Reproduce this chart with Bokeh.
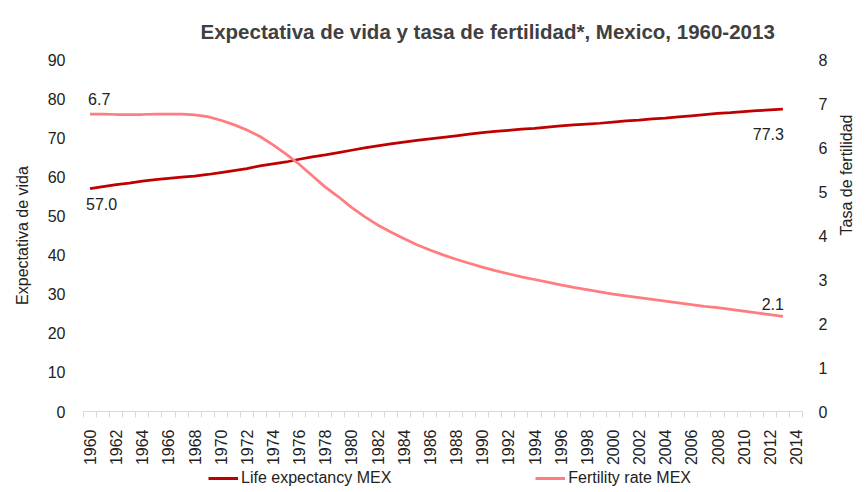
import math
from bokeh.plotting import figure
from bokeh.layouts import column
from bokeh.models import Range1d, LinearAxis, FixedTicker, Legend, LegendItem
from bokeh.core.properties import value
from bokeh.embed import file_html
from bokeh.resources import INLINE

# ---------------- data ----------------
years = list(range(1960, 2014))
life_expectancy = [
    57.0, 57.5, 58.0, 58.4, 58.9, 59.3, 59.6, 59.9, 60.2, 60.6,
    61.1, 61.6, 62.1, 62.8, 63.3, 63.8, 64.5, 65.1, 65.6, 66.2,
    66.8, 67.4, 67.9, 68.4, 68.9, 69.3, 69.7, 70.1, 70.5, 70.9,
    71.3, 71.6, 71.9, 72.2, 72.4, 72.7, 73.0, 73.3, 73.5, 73.7,
    74.0, 74.3, 74.5, 74.8, 75.0, 75.3, 75.6, 75.9, 76.2, 76.4,
    76.7, 76.9, 77.1, 77.3,
]
fertility_rate = [
    6.76, 6.76, 6.75, 6.75, 6.75, 6.76, 6.76, 6.76, 6.74, 6.70,
    6.62, 6.52, 6.40, 6.25, 6.06, 5.85, 5.62, 5.36, 5.10, 4.88,
    4.64, 4.43, 4.24, 4.08, 3.93, 3.79, 3.67, 3.56, 3.46, 3.37,
    3.28, 3.20, 3.13, 3.06, 3.00, 2.94, 2.88, 2.82, 2.77, 2.72,
    2.67, 2.63, 2.59, 2.55, 2.51, 2.47, 2.43, 2.39, 2.36, 2.32,
    2.28, 2.24, 2.20, 2.16,
]
x_label_years = list(range(1960, 2015, 2))
life_ticks = list(range(0, 91, 10))
fert_ticks = list(range(0, 9))
life_labels = ["57.0", "77.3"]
fert_labels = ["6.7", "2.1"]
series_names = ["Life expectancy MEX", "Fertility rate MEX"]

TITLE = "Expectativa de vida y tasa de fertilidad*, Mexico, 1960-2013"
LIFE_COLOR = "#C00000"
FERT_COLOR = "#FF7C80"
TEXT_COLOR = "#222222"
FONT = "Liberation Sans"

p = figure(
    width=866, height=468,
    output_backend="svg", toolbar_location=None,
    x_range=Range1d(years[0] - 0.5, x_label_years[-1] + 0.5),
    y_range=Range1d(life_ticks[0], life_ticks[-1]),
    min_border_left=83, min_border_right=59,
    min_border_top=59, min_border_bottom=57,
)
p.extra_y_ranges = {"fert": Range1d(fert_ticks[0], fert_ticks[-1])}
p.outline_line_color = None
p.xgrid.visible = False
p.ygrid.visible = False
p.background_fill_color = "white"
p.border_fill_color = "white"

# title
p.title.text = TITLE
p.title.text_font = FONT
p.title.text_font_style = "bold"
p.title.text_font_size = "20.5px"
p.title.text_color = "#404040"
p.title.align = "left"
p.title.offset = 117
p.title.standoff = 34

# x axis
xax = p.xaxis[0]
xax.axis_label = None
xax.ticker = FixedTicker(
    ticks=x_label_years,
    minor_ticks=[y - 0.5 for y in range(years[0], x_label_years[-1] + 2)],
)
xax.major_label_orientation = math.pi / 2
xax.major_tick_out = 0
xax.major_tick_in = 0
xax.minor_tick_out = 6
xax.minor_tick_in = 0
xax.minor_tick_line_color = "#D9D9D9"
xax.axis_line_color = "#D9D9D9"
xax.major_label_standoff = 12
xax.major_label_text_font = FONT
xax.major_label_text_font_size = "16px"
xax.major_label_text_color = TEXT_COLOR

# left axis
yax = p.yaxis[0]
yax.ticker = FixedTicker(ticks=life_ticks)
yax.axis_line_color = None
yax.major_tick_out = 0
yax.major_tick_in = 0
yax.minor_tick_out = 0
yax.minor_tick_in = 0
yax.major_label_standoff = 18
yax.major_label_text_font = FONT
yax.major_label_text_font_size = "16px"
yax.major_label_text_color = TEXT_COLOR
yax.axis_label = "Expectativa de vida"
yax.axis_label_standoff = 14
yax.axis_label_text_font = FONT
yax.axis_label_text_font_size = "16px"
yax.axis_label_text_font_style = "normal"
yax.axis_label_text_color = TEXT_COLOR

# right axis
rax = LinearAxis(y_range_name="fert", ticker=FixedTicker(ticks=fert_ticks))
rax.axis_line_color = None
rax.major_tick_out = 0
rax.major_tick_in = 0
rax.minor_tick_out = 0
rax.minor_tick_in = 0
rax.major_label_standoff = 16
rax.major_label_text_font = FONT
rax.major_label_text_font_size = "16px"
rax.major_label_text_color = TEXT_COLOR
rax.axis_label = "Tasa de fertilidad"
rax.axis_label_orientation = math.pi / 2
rax.axis_label_standoff = 16
rax.axis_label_text_font = FONT
rax.axis_label_text_font_size = "16px"
rax.axis_label_text_font_style = "normal"
rax.axis_label_text_color = TEXT_COLOR
p.add_layout(rax, "right")

# lines
r_life = p.line(years, life_expectancy, line_color=LIFE_COLOR, line_width=2.75)
r_fert = p.line(years, fertility_rate, line_color=FERT_COLOR, line_width=2.75,
                y_range_name="fert")

# data labels
lab_kw = dict(text_font=value(FONT), text_font_size="16px", text_color=TEXT_COLOR,
              text_baseline="middle")
p.text(x=[years[0]], y=[life_expectancy[0]], text=[life_labels[0]],
       text_align="left", x_offset=-4, y_offset=15, **lab_kw)
p.text(x=[years[-1]], y=[life_expectancy[-1]], text=[life_labels[1]],
       text_align="right", x_offset=1, y_offset=25, **lab_kw)
p.text(x=[years[0]], y=[fertility_rate[0]], text=[fert_labels[0]],
       text_align="left", x_offset=-2, y_offset=-15, y_range_name="fert", **lab_kw)
p.text(x=[years[-1]], y=[fertility_rate[-1]], text=[fert_labels[1]],
       text_align="right", x_offset=1, y_offset=-12, y_range_name="fert", **lab_kw)

# legend strip under the chart (frames of a column are aligned with the chart)
lg = figure(
    width=866, height=24, output_backend="svg", toolbar_location=None,
    x_axis_location=None, y_axis_location=None,
    min_border=0, outline_line_color=None,
    x_range=Range1d(0, 1), y_range=Range1d(0, 1),
)
lg.grid.visible = False
# same series drawn out of this strip's view, only to provide legend swatches
sw_life = lg.line(years, life_expectancy, line_color=LIFE_COLOR, line_width=3)
sw_fert = lg.line(years, fertility_rate, line_color=FERT_COLOR, line_width=3)
legend = Legend(
    items=[LegendItem(label=series_names[0], renderers=[sw_life]),
           LegendItem(label=series_names[1], renderers=[sw_fert])],
    orientation="horizontal", location=(125, 5),
    spacing=144, glyph_width=30, glyph_height=16, label_height=16,
    label_standoff=3, padding=0, margin=0,
    border_line_color=None, background_fill_alpha=0,
    label_text_font=FONT, label_text_font_size="16px", label_text_color=TEXT_COLOR,
)
lg.add_layout(legend, "center")

layout = column(p, lg, spacing=0)
open("out.html", "w").write(file_html(layout, INLINE))
